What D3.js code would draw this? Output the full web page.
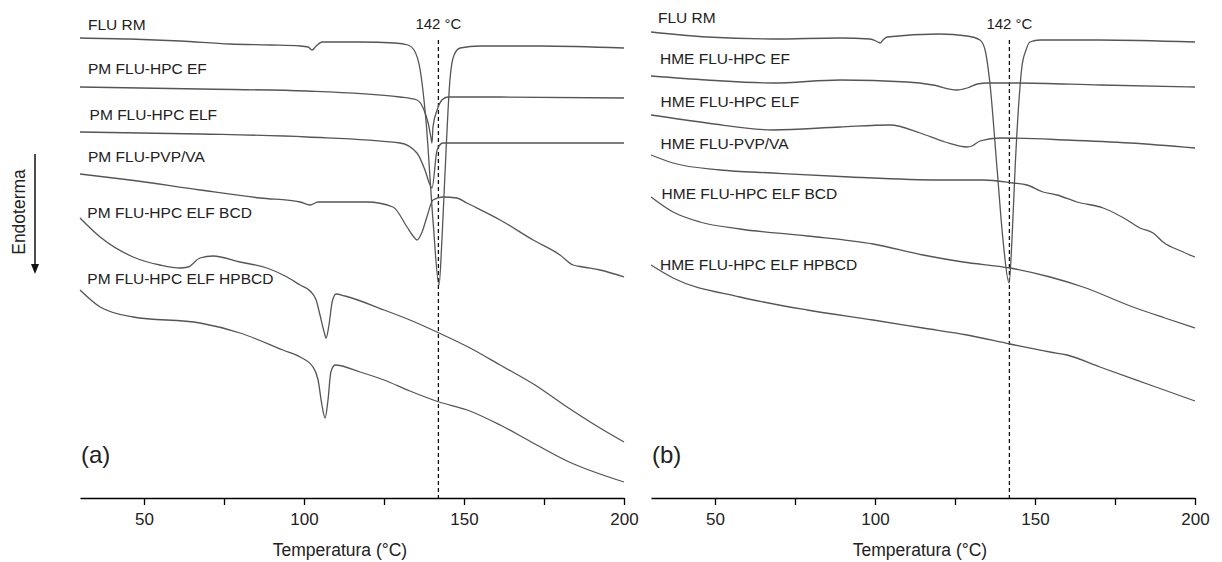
<!DOCTYPE html>
<html>
<head>
<meta charset="utf-8">
<script src="https://cdn.jsdelivr.net/npm/d3@7"></script>
<style>
  body { margin: 0; background: #fff; }
  text { font-family: Arial, "Liberation Sans", sans-serif; fill: #222; }
</style>
</head>
<body>
<svg id="chart" width="1222" height="562"></svg>
<script>
// ---- data: [temperature (°C), heat flow (a.u., offset per trace)] ----
var majorTicks = [50, 100, 150, 200];
var minorTicks = [75, 125, 175];
var meltPoint = 142;

var labelsA = ["FLU RM", "PM FLU-HPC EF", "PM FLU-HPC ELF", "PM FLU-PVP/VA",
               "PM FLU-HPC ELF BCD", "PM FLU-HPC ELF HPBCD"];
var labelsB = ["FLU RM", "HME FLU-HPC EF", "HME FLU-HPC ELF", "HME FLU-PVP/VA",
               "HME FLU-HPC ELF BCD", "HME FLU-HPC ELF HPBCD"];

var fluRmA = [[30,46.0],[45.6,45.9],[61.3,45.7],[76.9,45.4],[89.4,45.3],[98.8,45.2],[101.3,45.1],
  [102.5,44.8],[103.8,45.2],[105.6,45.6],[117.5,45.6],[128.4,45.5],[132.5,45.3],[134.4,44.8],
  [136.3,42.8],[138.1,37.8],[140.3,27.8],[142.2,21.3],[143.1,25.8],[144.4,34.8],[145.6,41.8],
  [146.9,44.3],[148.8,45.0],[155,45.2],[173.8,45.2],[200,45.0]];
var pmHpcEf = [[30,41.1],[67.5,40.9],[100.9,40.7],[130,40.1],[135.3,39.8],[137.5,38.8],[138.8,37.5],
  [139.7,36.0],[140,35.5],[140.3,37.1],[141.6,38.8],[143.1,39.8],[145,40.1],[161.3,40.1],[200,40.0]];
var pmHpcElf = [[30,36.6],[67.5,36.4],[100.9,36.1],[130,35.5],[135.3,34.5],[137.8,32.8],[139.4,31.3],
  [140,31.0],[141.6,34.8],[143.4,35.5],[161.3,35.5],[200,35.5]];
var pmPvpVa = [[30,32.4],[45.6,31.8],[67.5,30.8],[86.3,30.0],[98.8,29.6],[101.9,29.3],[104.4,29.6],
  [119.7,29.6],[127.8,29.1],[132.2,27.1],[134.1,26.2],[135.3,25.8],[136.9,26.6],[138.4,28.1],
  [140.3,29.8],[143.4,30.1],[147.8,30.0],[150.9,29.5],[161.3,27.8],[171.6,25.8],[180,24.3],
  [184.1,23.3],[187.2,23.1],[192.5,22.8],[200,22.1]];
var pmBcd = [[30,28.0],[36.3,26.1],[46.6,24.1],[55,23.3],[61.3,23.0],[63.8,23.1],[67.5,24.0],
  [71.6,24.2],[80,23.6],[88.4,23.0],[94.1,22.2],[98.8,21.3],[101.9,20.7],[103.8,19.8],[105,18.3],
  [106.3,16.6],[106.9,16.0],[107.8,17.3],[108.8,19.6],[110,20.4],[112.8,20.2],[125,18.8],
  [133.1,17.8],[142.2,16.5],[151.9,15.0],[161.3,13.3],[172.2,11.3],[182.2,9.1],[192.5,7.0],[200,5.6]];
var pmHpbcd = [[30,20.8],[36.3,19.1],[46.6,18.1],[67.5,17.5],[80,16.5],[93.4,14.8],[98.8,14.1],
  [102.8,13.1],[104.4,11.8],[105.6,9.3],[106.6,8.0],[107.5,9.8],[108.4,12.6],[109.7,13.3],
  [117.5,12.6],[125,11.8],[133.1,10.7],[142.2,9.6],[151,8.8],[161.3,7.3],[171.6,5.5],
  [182.2,3.7],[200,1.6]];

var fluRmB = [[30,46.6],[47.5,46.1],[68,45.9],[89,46.0],[98.4,45.9],[100.9,45.6],[101.6,45.5],
  [102.5,45.8],[103.8,46.1],[120,46.4],[128.8,46.2],[132.8,45.8],[134.4,44.8],[135.9,41.5],
  [138.1,33.1],[140,25.8],[141.9,21.5],[142.8,25.8],[143.8,33.1],[145,39.8],[145.9,43.1],
  [147.2,44.8],[148.4,45.6],[151.6,45.8],[170,45.8],[200,45.6]];
var hmeHpcEf = [[30,42.2],[47.5,41.8],[68.1,41.5],[89.1,41.8],[110,41.6],[118.1,41.3],[125.6,40.8],
  [128.8,41.0],[132,41.4],[135,41.5],[144.4,41.5],[170.3,41.3],[200,41.1]];
var hmeHpcElf = [[30,38.3],[47.5,37.5],[68.1,36.8],[89.1,37.1],[104.7,37.3],[114.1,36.5],[121.9,35.6],
  [128.8,35.1],[130.3,35.2],[132.8,35.7],[139.1,36.0],[160,35.8],[179.7,35.5],[200,35.0]];
var hmePvpVa = [[30,34.3],[36.9,33.5],[51.6,32.8],[68.1,32.5],[92.2,32.1],[120.3,31.8],[133.8,31.8],
  [143.1,31.5],[147.5,31.3],[152.5,30.6],[156.9,30.3],[163.1,29.6],[171.3,29.0],[178.8,27.8],
  [182.8,27.0],[186.9,26.5],[190,25.6],[196.3,24.6],[200,24.1]];
var hmeBcd = [[30,30.1],[36.9,28.6],[45.3,27.6],[57.8,26.9],[78.8,26.2],[99.4,25.4],[115,24.3],
  [127.5,23.6],[142.2,23.0],[154.7,22.1],[165,21.1],[180.6,19.1],[190.6,18.0],[200,17.0]];
var hmeHpbcd = [[30,23.3],[36.9,22.0],[57.8,20.1],[78.8,18.8],[99.4,17.8],[115,17.0],[128.8,16.3],
  [142.2,15.4],[154.7,14.6],[160,14.3],[170.3,13.1],[186,11.3],[200,9.7]];

// ---- layout ----
var width = 1222, height = 562;
var axisY = 498;
var svg = d3.select("#chart");
svg.append("rect").attr("width", width).attr("height", height).attr("fill", "#fff");

// label anchors in data units (temperature, heat flow)
var labelPosA = [[32.5,46.8],[32.5,42.4],[33.0,37.8],[32.5,33.6],[32.3,28.0],[32.3,21.4]];
var labelPosB = [[32.2,47.5],[32.8,43.4],[33.0,39.1],[33.0,34.9],[33.3,29.9],[32.8,22.8]];

function drawPanel(opts) {
  var x = d3.scaleLinear().domain([30, 200]).range([opts.left, opts.right]);
  var y = d3.scaleLinear().domain([0, 50]).range([axisY, axisY - 500]);
  var g = svg.append("g");

  var line = d3.line()
    .x(function(d) { return x(d[0]); })
    .y(function(d) { return y(d[1]); })
    .curve(d3.curveMonotoneX);

  // dashed marker at the melting point
  g.append("line")
    .attr("x1", x(meltPoint)).attr("x2", x(meltPoint))
    .attr("y1", y(45.8)).attr("y2", axisY)
    .attr("stroke", "#111").attr("stroke-width", 1.3)
    .attr("stroke-dasharray", "4,3");
  g.append("text")
    .attr("x", x(meltPoint)).attr("y", y(46.9))
    .attr("text-anchor", "middle").style("font-size", "15px")
    .text(meltPoint + " \u00B0C");

  // traces
  g.selectAll("path.trace")
    .data(opts.series)
    .enter().append("path")
    .attr("class", "trace")
    .attr("d", line)
    .attr("fill", "none")
    .attr("stroke", "#555")
    .attr("stroke-width", 1.3);

  // trace labels
  g.selectAll("text.lbl")
    .data(opts.labels)
    .enter().append("text")
    .attr("class", "lbl")
    .attr("x", function(d, i) { return x(opts.labelPos[i][0]); })
    .attr("y", function(d, i) { return y(opts.labelPos[i][1]); })
    .style("font-size", "15.5px")
    .text(function(d) { return d; });

  // x axis with major + minor ticks
  var ax = g.append("g")
    .attr("transform", "translate(0," + axisY + ")")
    .call(d3.axisBottom(x).tickValues(majorTicks).tickSize(7).tickSizeOuter(0).tickPadding(8));
  ax.select(".domain").attr("stroke", "#000").attr("stroke-width", 1.5);
  ax.selectAll(".tick line").attr("stroke", "#000").attr("stroke-width", 1.3);
  ax.selectAll(".tick text").style("font-size", "17px").style("font-family", "Arial, 'Liberation Sans', sans-serif").attr("fill", "#222");

  var minor = g.append("g")
    .attr("transform", "translate(0," + axisY + ")")
    .call(d3.axisBottom(x).tickValues(minorTicks).tickSize(7).tickFormat(""));
  minor.select(".domain").remove();
  minor.selectAll(".tick line").attr("stroke", "#000").attr("stroke-width", 1.3);

  g.append("text")
    .attr("x", opts.titleX).attr("y", 556)
    .attr("text-anchor", "middle").style("font-size", "17.5px")
    .text("Temperatura (\u00B0C)");

  g.append("text")
    .attr("x", opts.left + 1).attr("y", 463)
    .style("font-size", "24px")
    .text(opts.tag);
}

drawPanel({ left: 80, right: 624, tag: "(a)", titleX: 340,
  series: [fluRmA, pmHpcEf, pmHpcElf, pmPvpVa, pmBcd, pmHpbcd],
  labels: labelsA, labelPos: labelPosA });

drawPanel({ left: 651, right: 1195, tag: "(b)", titleX: 920,
  series: [fluRmB, hmeHpcEf, hmeHpcElf, hmePvpVa, hmeBcd, hmeHpbcd],
  labels: labelsB, labelPos: labelPosB });

// "Endoterma" direction arrow
svg.append("text")
  .attr("transform", "translate(25,212) rotate(-90)")
  .attr("text-anchor", "middle")
  .style("font-size", "17.5px")
  .text("Endoterma");
svg.append("line")
  .attr("x1", 35).attr("x2", 35).attr("y1", 154).attr("y2", 266)
  .attr("stroke", "#111").attr("stroke-width", 1.5);
svg.append("path")
  .attr("d", "M31,264L39,264L35,274Z")
  .attr("fill", "#111");
</script>
</body>
</html>
